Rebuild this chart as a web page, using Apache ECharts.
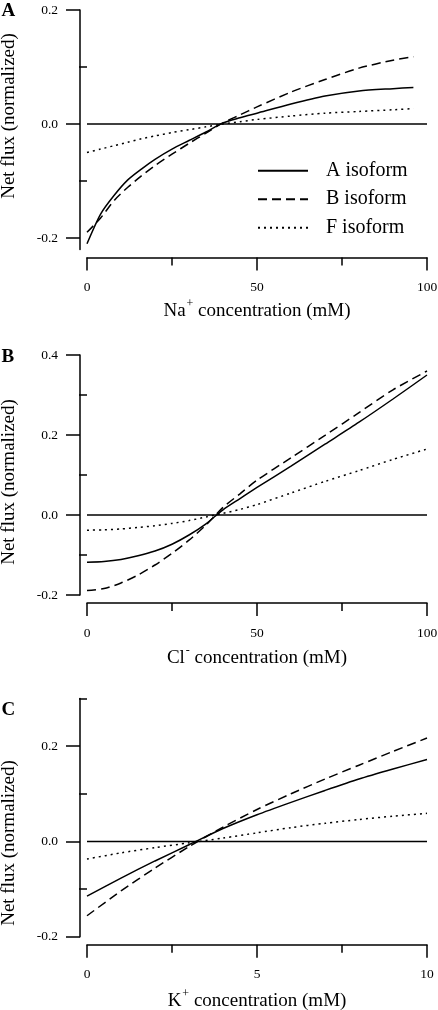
<!DOCTYPE html>
<html><head><meta charset="utf-8">
<script src="https://cdn.jsdelivr.net/npm/echarts@6/dist/echarts.min.js"></script>
<style>html,body{margin:0;padding:0;background:#fff}#c{width:438px;height:1010px}</style>
</head><body><div id="c"></div>
<script>
// ---- Panel A: Na+ ----
const naConc = [0,4,8,12,16,20,25,30,35,40,45,50,60,70,80,90,96];
const naIsoA = [-0.210,-0.158,-0.125,-0.098,-0.079,-0.062,-0.044,-0.029,-0.014,0.002,0.011,0.019,0.035,0.049,0.058,0.062,0.064];
const naIsoB = [-0.190,-0.165,-0.134,-0.111,-0.091,-0.073,-0.053,-0.034,-0.016,0.002,0.016,0.030,0.056,0.078,0.098,0.112,0.118];
const naIsoF = [-0.050,-0.044,-0.038,-0.032,-0.026,-0.021,-0.015,-0.010,-0.005,0.000,0.004,0.008,0.014,0.019,0.022,0.025,0.027];
// ---- Panel B: Cl- ----
const clConc = [0,5,10,15,20,25,30,35,40,45,50,60,70,80,90,100];
const clIsoA = [-0.118,-0.116,-0.111,-0.102,-0.090,-0.073,-0.050,-0.022,0.013,0.041,0.069,0.122,0.177,0.232,0.290,0.350];
const clIsoB = [-0.189,-0.184,-0.170,-0.150,-0.125,-0.096,-0.063,-0.025,0.019,0.053,0.087,0.143,0.199,0.256,0.313,0.360];
const clIsoF = [-0.038,-0.037,-0.035,-0.031,-0.027,-0.021,-0.014,-0.005,0.004,0.014,0.026,0.055,0.084,0.111,0.139,0.165];
// ---- Panel C: K+ ----
const kConc = [0,1,2,3,4,5,6,7,8,9,10];
const kIsoA = [-0.115,-0.077,-0.041,-0.007,0.027,0.056,0.082,0.107,0.131,0.152,0.172];
const kIsoB = [-0.156,-0.104,-0.056,-0.011,0.030,0.067,0.100,0.131,0.160,0.189,0.217];
const kIsoF = [-0.037,-0.024,-0.013,-0.003,0.007,0.018,0.029,0.038,0.046,0.053,0.059];
// ---- axes ----
const seriesNames = ['A isoform','B isoform','F isoform'];
const panelLetters = ['A','B','C'];
const xTitles = [['Na','+'],['Cl','-'],['K','+']];
const yTitle = 'Net flux (normalized)';
const xRanges = [[0,100],[0,100],[0,10]];
const yRanges = [[-0.22,0.2],[-0.2,0.4],[-0.2,0.3]];
const yMajorTicks = [[-0.2,0,0.2],[-0.2,0,0.2,0.4],[-0.2,0,0.2]];
const yMinorTicks = [[-0.1,0.1],[-0.1,0.1,0.3],[-0.1,0.1,0.3]];

const FONT = '"Liberation Serif", "Times New Roman", serif';
const BLACK = '#000';
const panels = [
  {conc: naConc, vals: [naIsoA, naIsoB, naIsoF]},
  {conc: clConc, vals: [clIsoA, clIsoB, clIsoF]},
  {conc: kConc,  vals: [kIsoA,  kIsoB,  kIsoF]}
];
// layout (pixels)
const gridTops = [10, 355, 698.5];
const gridHeights = [239.4, 240, 238.2];
const letterY = [11, 357.5, 710];
const yTitleY = [116, 482, 843];
const xTitleY = [311, 658, 1001];
const lineTypes = ['solid', [9,5], [2,4]];

const grids = [], xAxes = [], yAxes = [], series = [], graphics = [];
const pair = (xs, ys) => xs.map((x,i) => [x, ys[i]]);

panels.forEach((p, i) => {
  grids.push({left: 87, right: 11, top: gridTops[i], height: gridHeights[i], containLabel: false, outerBoundsMode: 'none'});
  const xr = xRanges[i];
  xAxes.push({
    gridIndex: i, type: 'value', min: xr[0], max: xr[1], interval: (xr[1]-xr[0])/2,
    offset: 8,
    axisLine: {show: true, onZero: false, lineStyle: {color: BLACK, width: 1.5}},
    axisTick: {show: true, length: 13, lineStyle: {color: BLACK, width: 1.5}},
    minorTick: {show: true, splitNumber: 2, length: 8, lineStyle: {color: BLACK, width: 1.5}},
    axisLabel: {color: BLACK, fontFamily: FONT, fontSize: 13.5, margin: 23, showMinLabel: true, showMaxLabel: true, hideOverlap: false},
    splitLine: {show: false}, minorSplitLine: {show: false}
  });
  const yr = yRanges[i];
  yAxes.push({
    gridIndex: i, type: 'value', min: yr[0], max: yr[1], position: 'left', offset: 7,
    axisLine: {show: true, onZero: false, lineStyle: {color: BLACK, width: 1.5}},
    axisTick: {show: true, length: 14, customValues: yMajorTicks[i], lineStyle: {color: BLACK, width: 1.5}},
    axisLabel: {customValues: yMajorTicks[i], formatter: v => Number(v).toFixed(1), color: BLACK, fontFamily: FONT, fontSize: 13.5, margin: 22, hideOverlap: false},
    splitLine: {show: false}
  });
  yAxes.push({
    gridIndex: i, type: 'value', min: yr[0], max: yr[1], position: 'left', offset: 7,
    axisLine: {show: false},
    axisTick: {show: true, length: 8, customValues: yMinorTicks[i], lineStyle: {color: BLACK, width: 1.5}},
    axisLabel: {show: false},
    splitLine: {show: false}
  });
  // zero reference line
  series.push({
    type: 'line', xAxisIndex: i, yAxisIndex: 2*i, silent: true, symbol: 'none',
    data: pair(xr, [0, 0]),
    lineStyle: {color: BLACK, width: 1.5}, z: 1
  });
  p.vals.forEach((v, k) => {
    series.push({
      name: seriesNames[k], type: 'line', xAxisIndex: i, yAxisIndex: 2*i,
      data: pair(p.conc, v), symbol: 'none', showSymbol: false,
      smooth: 0.25, silent: true,
      itemStyle: {color: BLACK},
      lineStyle: {color: BLACK, width: 1.5, type: lineTypes[k]}, z: 2
    });
  });
  graphics.push({
    type: 'text', x: 1.5, y: letterY[i],
    style: {text: panelLetters[i], font: 'bold 19px ' + FONT, fill: BLACK, align: 'left', verticalAlign: 'middle', textAlign: 'left', textVerticalAlign: 'middle'}
  });
  graphics.push({
    type: 'text', x: 9, y: yTitleY[i], rotation: Math.PI/2,
    style: {text: yTitle, font: '19px ' + FONT, fill: BLACK, align: 'center', verticalAlign: 'middle', textAlign: 'center', textVerticalAlign: 'middle'}
  });
  const t = xTitles[i];
  graphics.push({
    type: 'text', x: 257, y: xTitleY[i],
    style: {
      text: '{n|' + t[0] + '}{s|' + t[1] + '}{n| concentration (mM)}',
      fill: BLACK, align: 'center', verticalAlign: 'middle', textAlign: 'center', textVerticalAlign: 'middle',
      font: '19px ' + FONT,
      rich: {
        n: {fontSize: 19, fontFamily: FONT, fill: BLACK, color: BLACK},
        s: {fontSize: 12, fontFamily: FONT, fill: BLACK, color: BLACK, padding: [0, 0, 15, 1]}
      }
    }
  });
});

const chart = echarts.init(document.getElementById('c'), null, {renderer: 'canvas'});
chart.setOption({
  animation: false,
  backgroundColor: '#fff',
  grid: grids, xAxis: xAxes, yAxis: yAxes, series: series,
  legend: {
    data: seriesNames, orient: 'vertical', left: 252, top: 155.7,
    itemWidth: 50, itemHeight: 20, itemGap: 8.5, selectedMode: false,
    itemStyle: {color: 'rgba(0,0,0,0)', borderWidth: 0, opacity: 0},
    textStyle: {fontSize: 20, fontFamily: FONT, color: BLACK, padding: [0, 0, 0, 13]}
  },
  graphic: graphics
});
</script></body></html>
